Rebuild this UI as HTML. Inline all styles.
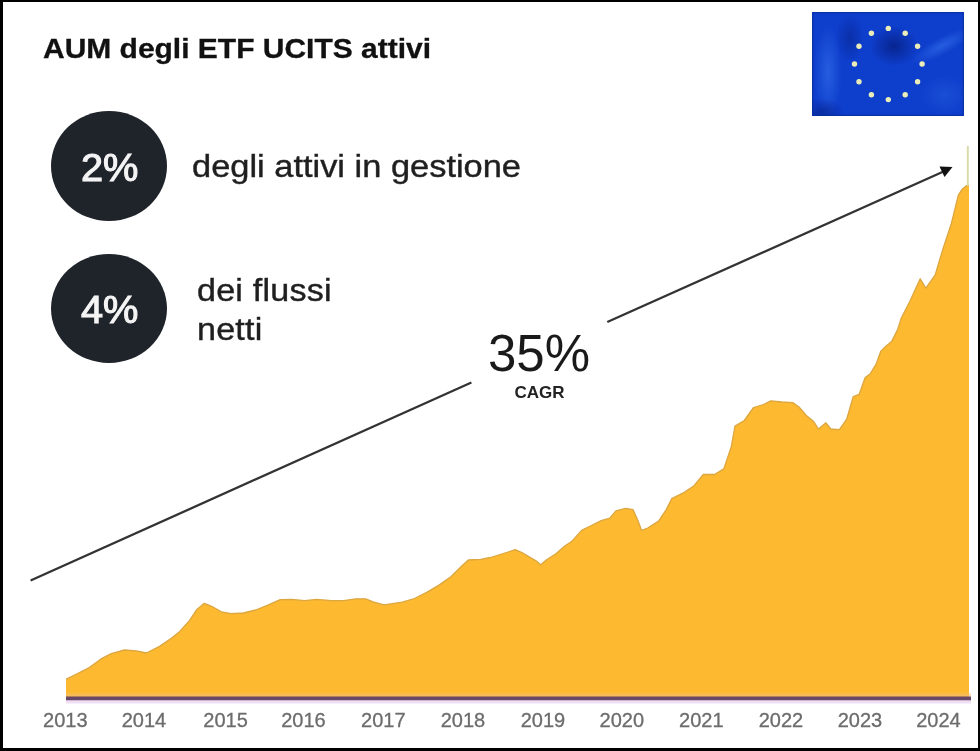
<!DOCTYPE html>
<html><head><meta charset="utf-8"><style>
html,body{margin:0;padding:0;background:#fff;}
body{width:980px;height:751px;position:relative;overflow:hidden;font-family:"Liberation Sans",sans-serif;}
.frame{position:absolute;left:0;top:0;width:980px;height:751px;box-sizing:border-box;border-top:2px solid #000;border-left:3px solid #000;border-right:2.5px solid #000;border-bottom:3px solid #000;}
.t{position:absolute;white-space:nowrap;color:#1a1a1a;}
.title{left:43px;top:34px;font-size:27px;font-weight:bold;-webkit-text-stroke:0.3px #111;color:#111;transform-origin:0 0;transform:scaleX(1.11);}
.circ{position:absolute;background:#1f242b;border-radius:50%;}
.ct{position:absolute;color:#f4f4f4;font-weight:normal;font-size:39px;white-space:nowrap;-webkit-text-stroke:1.1px #f4f4f4;transform-origin:0 0;transform:scaleX(1.02)}
.body{font-size:34px;color:#1f1f1f;-webkit-text-stroke:0.4px #1f1f1f;}
</style></head><body>
<div class="wrap" style="position:absolute;left:0;top:0;width:980px;height:751px;filter:blur(0.6px)">
<svg width="980" height="751" style="position:absolute;left:0;top:0">
<defs>
<linearGradient id="fl" x1="0" y1="0" x2="1" y2="1">
<stop offset="0" stop-color="#0c3ac4"/><stop offset="0.5" stop-color="#0d40d0"/><stop offset="1" stop-color="#0a34b4"/>
</linearGradient>
<radialGradient id="dk" cx="0.5" cy="0.5" r="0.5">
<stop offset="0" stop-color="#061e80" stop-opacity="0.8"/><stop offset="1" stop-color="#061e80" stop-opacity="0"/>
</radialGradient>
<radialGradient id="lt" cx="0.5" cy="0.5" r="0.5">
<stop offset="0" stop-color="#3a78f0" stop-opacity="0.55"/><stop offset="1" stop-color="#3a78f0" stop-opacity="0"/>
</radialGradient>
<radialGradient id="st" cx="0.5" cy="0.5" r="0.5">
<stop offset="0" stop-color="#f0f4d8"/><stop offset="0.55" stop-color="#d8e4b8"/><stop offset="1" stop-color="#8aa0c8" stop-opacity="0"/>
</radialGradient>
<filter id="sb" x="-1" y="-1" width="3" height="3"><feGaussianBlur stdDeviation="0.7"/></filter>
<clipPath id="fc"><rect x="812" y="12" width="152" height="104"/></clipPath>
</defs>
<g clip-path="url(#fc)">
<rect x="812" y="12" width="152" height="104" fill="#0e3ecc"/>
<ellipse cx="828" cy="72" rx="14" ry="48" fill="url(#lt)"/>
<ellipse cx="850" cy="38" rx="14" ry="24" fill="url(#dk)" opacity="0.6"/>
<ellipse cx="894" cy="46" rx="24" ry="20" fill="url(#dk)"/>
<ellipse cx="942" cy="46" rx="34" ry="9" transform="rotate(-28 942 46)" fill="url(#lt)"/>
<ellipse cx="945" cy="95" rx="25" ry="20" fill="url(#lt)" opacity="0.5"/>
<ellipse cx="822" cy="112" rx="22" ry="14" fill="url(#dk)" opacity="0.7"/>
<rect x="812.75" y="12.75" width="150.5" height="102.5" fill="none" stroke="#0a2a90" stroke-width="1.5" opacity="0.5"/>
</g>
<g filter="url(#sb)"><circle cx="888.3" cy="28.4" r="2.7" fill="#eaedb8"/><circle cx="905.2" cy="33.2" r="2.7" fill="#eaedb8"/><circle cx="917.6" cy="46.2" r="2.7" fill="#eaedb8"/><circle cx="922.1" cy="64.0" r="2.7" fill="#eaedb8"/><circle cx="917.6" cy="81.8" r="2.7" fill="#eaedb8"/><circle cx="905.2" cy="94.8" r="2.7" fill="#eaedb8"/><circle cx="888.3" cy="99.6" r="2.7" fill="#eaedb8"/><circle cx="871.4" cy="94.8" r="2.7" fill="#eaedb8"/><circle cx="859.0" cy="81.8" r="2.7" fill="#eaedb8"/><circle cx="854.5" cy="64.0" r="2.7" fill="#eaedb8"/><circle cx="859.0" cy="46.2" r="2.7" fill="#eaedb8"/><circle cx="871.4" cy="33.2" r="2.7" fill="#eaedb8"/></g>
<path d="M66,697 L66.0,679.4 74.6,675.0 89.3,667.6 101.0,658.9 111.3,653.7 124.5,650.0 136.2,650.8 146.4,653.0 159.6,646.4 171.3,638.3 179.8,631.4 189.6,620.4 196.9,609.4 204.3,603.3 211.6,606.3 221.4,611.8 231.2,613.7 243.4,613.0 255.7,610.0 267.9,605.1 280.2,599.6 292.2,599.4 304.5,600.6 316.7,599.4 331.4,600.6 343.7,600.6 355.9,598.8 365.7,598.8 373.0,601.8 384.0,604.9 402.2,602.2 414.5,598.5 426.7,592.4 439.0,585.1 451.2,576.5 461.0,566.7 468.3,560.0 480.6,559.4 490.4,557.5 500.2,554.5 508.0,552.0 515.2,549.6 522.4,552.8 530.4,557.6 536.0,560.7 540.7,564.7 546.3,560.0 555.9,553.7 564.5,546.3 571.8,541.4 581.6,530.4 591.4,525.5 601.2,520.6 609.8,518.2 615.9,510.8 625.7,508.4 633.0,509.6 637.9,520.6 641.6,530.4 647.7,528.0 658.6,521.1 666.1,509.9 671.7,498.7 682.8,493.2 694.0,485.7 703.3,474.5 714.5,474.5 723.8,468.9 731.3,446.6 735.0,426.1 744.3,420.5 753.6,407.5 763.5,404.5 770.8,400.8 781.8,402.0 792.8,402.6 799.0,407.0 806.3,415.5 813.7,421.6 818.5,429.0 825.9,422.8 830.8,429.0 839.4,429.6 846.7,419.2 853.2,396.7 859.2,394.3 865.2,377.5 870.0,374.0 876.0,364.4 880.8,351.2 885.6,346.4 891.6,341.6 897.6,329.6 901.3,318.0 909.9,301.2 920.2,278.8 925.8,288.2 935.1,275.1 943.5,247.1 951.0,224.8 958.4,194.9 962.1,189.3 966.8,185.6 969.0,185.6 L969,697 Z" fill="#fdb92f"/>
<polyline points="66.0,679.4 74.6,675.0 89.3,667.6 101.0,658.9 111.3,653.7 124.5,650.0 136.2,650.8 146.4,653.0 159.6,646.4 171.3,638.3 179.8,631.4 189.6,620.4 196.9,609.4 204.3,603.3 211.6,606.3 221.4,611.8 231.2,613.7 243.4,613.0 255.7,610.0 267.9,605.1 280.2,599.6 292.2,599.4 304.5,600.6 316.7,599.4 331.4,600.6 343.7,600.6 355.9,598.8 365.7,598.8 373.0,601.8 384.0,604.9 402.2,602.2 414.5,598.5 426.7,592.4 439.0,585.1 451.2,576.5 461.0,566.7 468.3,560.0 480.6,559.4 490.4,557.5 500.2,554.5 508.0,552.0 515.2,549.6 522.4,552.8 530.4,557.6 536.0,560.7 540.7,564.7 546.3,560.0 555.9,553.7 564.5,546.3 571.8,541.4 581.6,530.4 591.4,525.5 601.2,520.6 609.8,518.2 615.9,510.8 625.7,508.4 633.0,509.6 637.9,520.6 641.6,530.4 647.7,528.0 658.6,521.1 666.1,509.9 671.7,498.7 682.8,493.2 694.0,485.7 703.3,474.5 714.5,474.5 723.8,468.9 731.3,446.6 735.0,426.1 744.3,420.5 753.6,407.5 763.5,404.5 770.8,400.8 781.8,402.0 792.8,402.6 799.0,407.0 806.3,415.5 813.7,421.6 818.5,429.0 825.9,422.8 830.8,429.0 839.4,429.6 846.7,419.2 853.2,396.7 859.2,394.3 865.2,377.5 870.0,374.0 876.0,364.4 880.8,351.2 885.6,346.4 891.6,341.6 897.6,329.6 901.3,318.0 909.9,301.2 920.2,278.8 925.8,288.2 935.1,275.1 943.5,247.1 951.0,224.8 958.4,194.9 962.1,189.3 966.8,185.6 969.0,185.6" fill="none" stroke="#dca640" stroke-width="1.3" stroke-linejoin="round"/>
<line x1="967.8" y1="186" x2="967.8" y2="146" stroke="#d9dcaa" stroke-width="2"/>
<rect x="66" y="693.5" width="905" height="3" fill="#eec07a" opacity="0.55"/>
<rect x="66" y="696.5" width="905" height="4" fill="#684868"/>
<rect x="66" y="700.5" width="905" height="3" fill="#ecd6f2" opacity="0.8"/>
<g font-family="Liberation Sans" font-size="20" fill="#6c6c6c" stroke="#6c6c6c" stroke-width="0.3"><text x="65.3" y="727" text-anchor="middle">2013</text><text x="144" y="727" text-anchor="middle">2014</text><text x="225.6" y="727" text-anchor="middle">2015</text><text x="303.5" y="727" text-anchor="middle">2016</text><text x="383.3" y="727" text-anchor="middle">2017</text><text x="463" y="727" text-anchor="middle">2018</text><text x="543" y="727" text-anchor="middle">2019</text><text x="621.8" y="727" text-anchor="middle">2020</text><text x="701.3" y="727" text-anchor="middle">2021</text><text x="781" y="727" text-anchor="middle">2022</text><text x="860" y="727" text-anchor="middle">2023</text><text x="938.4" y="727" text-anchor="middle">2024</text></g>
<line x1="30.6" y1="580.5" x2="471.4" y2="382.5" stroke="#333" stroke-width="2.3"/>
<line x1="607.3" y1="322" x2="943" y2="171.8" stroke="#333" stroke-width="2.3"/>
<polygon points="952.5,167 939.5,166.5 944.5,177" fill="#111"/>
<text x="539" y="370.5" text-anchor="middle" font-family="Liberation Sans" font-size="51" fill="#1a1a1a">35%</text>
<text x="539.5" y="398" text-anchor="middle" font-family="Liberation Sans" font-weight="bold" font-size="17" fill="#222">CAGR</text>
</svg>
<div class="t title">AUM degli ETF UCITS attivi</div>
<div class="circ" style="left:51.2px;top:111.2px;width:115.5px;height:110px"></div>
<div class="circ" style="left:51.2px;top:253.5px;width:115.5px;height:109px"></div>
<div class="ct" style="left:80.5px;top:146px">2%</div>
<div class="ct" style="left:80.5px;top:287.5px">4%</div>
<div class="t body" style="left:191.5px;top:149px;font-size:31px;transform-origin:0 0;transform:scaleX(1.11)">degli attivi in gestione</div>
<div class="t body" style="left:196.5px;top:270.5px;line-height:39px;font-size:31px;transform-origin:0 0;transform:scaleX(1.1);letter-spacing:0.2px">dei flussi<br>netti</div>
</div>
<div class="frame"></div>
</body></html>
